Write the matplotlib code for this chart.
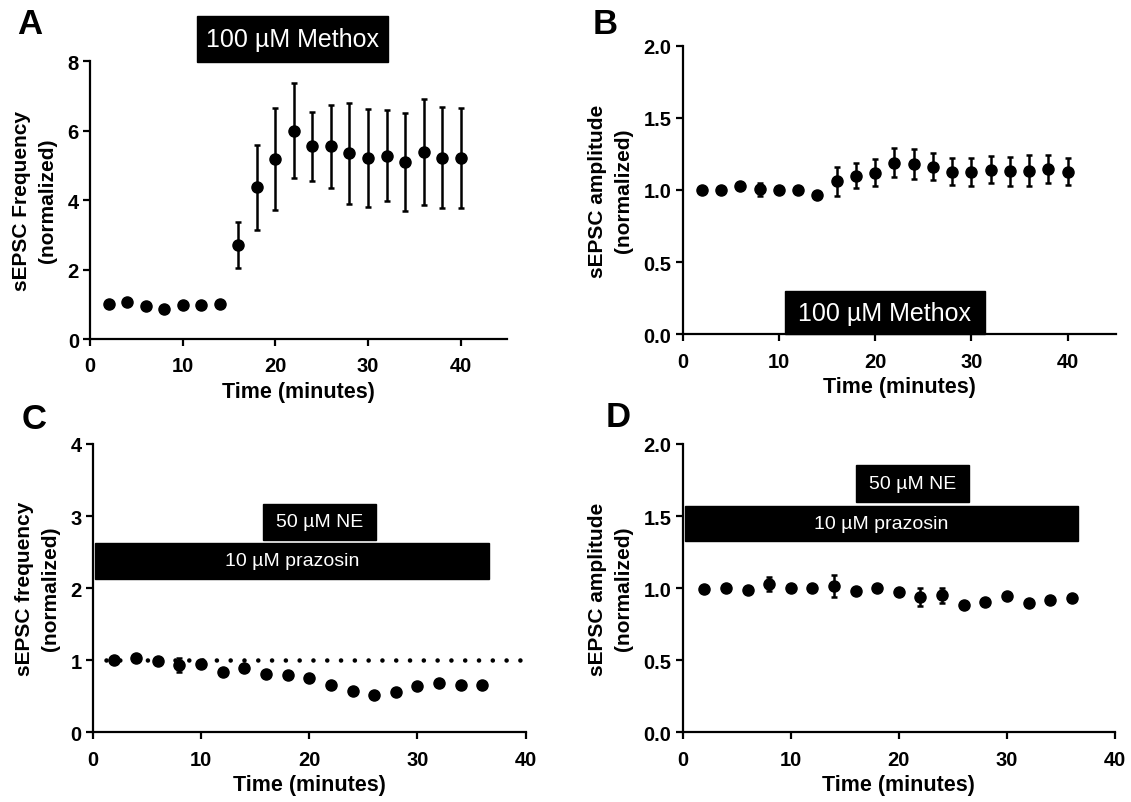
import matplotlib
matplotlib.use("Agg")
import matplotlib.pyplot as plt
from matplotlib.patches import Rectangle

plt.rcParams['font.family'] = ['Liberation Sans', 'DejaVu Sans']

# ---------------- data ----------------
time_AB = [2, 4, 6, 8, 10, 12, 14, 16, 18, 20, 22, 24, 26, 28, 30, 32, 34, 36, 38, 40]
freq_A = [1.01, 1.06, 0.96, 0.86, 0.98, 0.98, 1.01, 2.70, 4.36, 5.18, 6.00, 5.54, 5.54,
          5.34, 5.21, 5.28, 5.10, 5.39, 5.22, 5.21]
freq_A_err = [0.05, 0.05, 0.05, 0.05, 0.05, 0.05, 0.05, 0.67, 1.22, 1.46, 1.37, 1.00, 1.19,
              1.45, 1.42, 1.32, 1.41, 1.52, 1.46, 1.44]
amp_B = [1.00, 1.00, 1.03, 1.005, 1.00, 1.00, 0.967, 1.06, 1.10, 1.12, 1.19, 1.18, 1.16,
         1.127, 1.127, 1.14, 1.13, 1.135, 1.145, 1.127]
amp_B_err = [0.01, 0.01, 0.01, 0.044, 0.01, 0.01, 0.01, 0.10, 0.087, 0.092, 0.10, 0.105,
             0.094, 0.094, 0.098, 0.094, 0.10, 0.11, 0.098, 0.094]

time_CD = [2, 4, 6, 8, 10, 12, 14, 16, 18, 20, 22, 24, 26, 28, 30, 32, 34, 36]
freq_C = [1.00, 1.026, 0.984, 0.933, 0.947, 0.832, 0.892, 0.81, 0.795, 0.749, 0.652,
          0.577, 0.522, 0.563, 0.638, 0.684, 0.66, 0.66]
freq_C_err = [0.03, 0.03, 0.03, 0.10, 0.03, 0.03, 0.03, 0.03, 0.03, 0.03, 0.03, 0.03,
              0.03, 0.03, 0.03, 0.03, 0.03, 0.03]
amp_D = [0.996, 1.0, 0.985, 1.029, 1.0, 1.003, 1.013, 0.98, 1.003, 0.971, 0.939, 0.95,
         0.885, 0.906, 0.948, 0.899, 0.916, 0.93]
amp_D_err = [0.01, 0.01, 0.01, 0.05, 0.01, 0.01, 0.075, 0.01, 0.01, 0.01, 0.062, 0.052,
             0.01, 0.01, 0.01, 0.01, 0.01, 0.01]

baseline = 1.0

# ---------------- figure ----------------
fig = plt.figure(figsize=(11.31, 8.03), dpi=100)
W, H = 1131, 803


def make_ax(left, right, top, bottom):
    return fig.add_axes([left / W, 1 - bottom / H, (right - left) / W, (bottom - top) / H])


axA = make_ax(90, 507, 62, 340)
axB = make_ax(682.7, 1115.7, 46.7, 335.3)
axC = make_ax(92.7, 525.7, 445, 733.3)
axD = make_ax(682.7, 1115, 445, 733.3)


def style(ax, xlim, ylim, yticks, yfmt, ylabel, ypad):
    ax.set_xlim(*xlim)
    ax.set_ylim(*ylim)
    ax.set_xticks([0, 10, 20, 30, 40])
    ax.set_yticks(yticks)
    ax.set_yticklabels([yfmt.format(v) for v in yticks])
    for lab in ax.get_xticklabels() + ax.get_yticklabels():
        lab.set_fontsize(14.5)
        lab.set_fontweight('bold')
    for s in ['top', 'right']:
        ax.spines[s].set_visible(False)
    for s in ['left', 'bottom']:
        ax.spines[s].set_linewidth(1.6)
    ax.tick_params(direction='out', length=5, width=1.6)
    ax.tick_params(axis='x', pad=7.5)
    ax.tick_params(axis='y', pad=3)
    ax.set_xlabel('Time (minutes)', fontsize=15.5, fontweight='bold', labelpad=4)
    ax.set_ylabel(ylabel, fontsize=15, fontweight='bold', labelpad=ypad,
                  linespacing=1.45)


def dots(ax, x, y, e):
    ax.errorbar(x, y, yerr=e, fmt='o', color='black', markersize=8,
                elinewidth=1.8, capsize=2.5, capthick=1.8, clip_on=False, zorder=3)


def box(ax, x0, x1, y0, y1, text, fs):
    ax.add_patch(Rectangle((x0, y0), x1 - x0, y1 - y0, facecolor='black',
                           edgecolor='black', clip_on=False, zorder=4))
    ax.text((x0 + x1) / 2, (y0 + y1) / 2, text, color='white', fontsize=fs,
            ha='center', va='center', zorder=5, clip_on=False)


# A
style(axA, (0, 45), (0, 8), [0, 2, 4, 6, 8], '{:g}', 'sEPSC Frequency\n(normalized)', 7.5)
dots(axA, time_AB, freq_A, freq_A_err)
box(axA, 11.5, 32.2, 7.97, 9.3, '100 µM Methox', 18)

# B
style(axB, (0, 45), (0, 2.0), [0, 0.5, 1.0, 1.5, 2.0], '{:.1f}', 'sEPSC amplitude\n(normalized)', 7.5)
dots(axB, time_AB, amp_B, amp_B_err)
box(axB, 10.6, 31.4, 0.0, 0.30, '100 µM Methox', 18)

# C
style(axC, (0, 40), (0, 4), [0, 1, 2, 3, 4], '{:g}', 'sEPSC frequency\n(normalized)', 7.5)
axC.plot([1.2, 40], [baseline, baseline], color='black', linewidth=3.3,
         linestyle=(0, (0.01, 3.0)), dash_capstyle='round', zorder=2, clip_on=False)
dots(axC, time_CD, freq_C, freq_C_err)
box(axC, 0.2, 36.6, 2.13, 2.63, '10 µM prazosin', 14)
box(axC, 15.75, 26.2, 2.67, 3.17, '50 µM NE', 14)

# D
style(axD, (0, 40), (0, 2.0), [0, 0.5, 1.0, 1.5, 2.0], '{:.1f}', 'sEPSC amplitude\n(normalized)', 7.5)
dots(axD, time_CD, amp_D, amp_D_err)
box(axD, 0.2, 36.6, 1.327, 1.572, '10 µM prazosin', 14)
box(axD, 16.0, 26.5, 1.60, 1.855, '50 µM NE', 14)

# panel letters
for letter, (px, py) in zip('ABCD', [(30, 25), (605, 24), (34, 420), (618, 418)]):
    fig.text(px / W, 1 - py / H, letter, fontsize=25, fontweight='bold',
             ha='center', va='center')

fig.savefig('out.png', dpi=100)
